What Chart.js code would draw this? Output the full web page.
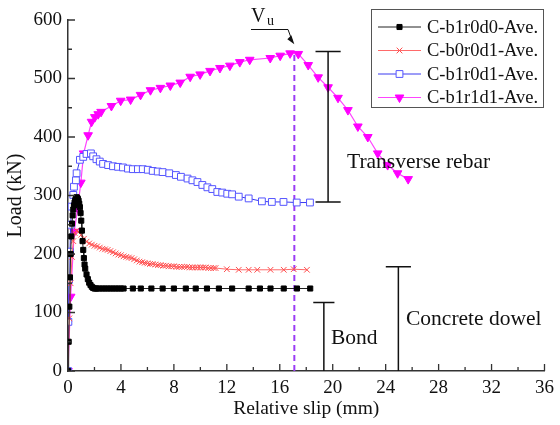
<!DOCTYPE html>
<html>
<head>
<meta charset="utf-8">
<script src="https://cdn.jsdelivr.net/npm/chart.js@4.4.1/dist/chart.umd.min.js"></script>
<style>
html, body { margin: 0; padding: 0; background: #fff; }
#wrap { width: 560px; height: 425px; position: relative; }
</style>
</head>
<body>
<div id="wrap"><canvas id="slipChart"></canvas></div>
<script>
// series: relative slip (mm) and load (kN)
const seriesNames = ['C-b1r0d0-Ave.', 'C-b0r0d1-Ave.', 'C-b1r0d1-Ave.', 'C-b1r1d1-Ave.'];

const b1r0d0Slip = [0, 0.05, 0.1, 0.15, 0.2, 0.25, 0.3, 0.35, 0.4, 0.45, 0.5, 0.55, 0.6, 0.65, 0.7, 0.75, 0.8, 0.85, 0.9, 0.95, 1.0, 1.05, 1.1, 1.15, 1.2, 1.25, 1.3, 1.4, 1.5, 1.6, 1.7, 1.8, 1.9, 2.0, 2.1, 2.2, 2.4, 2.6, 2.8, 3.0, 3.2, 3.4, 3.6, 3.8, 4.0, 4.2, 4.9, 5.5, 6.3, 7.15, 8.0, 8.9, 9.65, 10.5, 11.4, 12.4, 13.65, 14.5, 15.3, 16.3, 17.3, 18.3];
const b1r0d0Load = [0, 50, 110, 160, 200, 230, 252, 266, 276, 283, 288, 292, 295, 297, 296, 294, 291, 286, 280, 270, 257, 240, 222, 207, 193, 182, 175, 165, 157, 151, 147, 144, 142, 141, 141, 141, 141, 141, 141, 141, 141, 141, 141, 141, 141, 141, 141, 141, 141, 141, 141, 141, 141, 141, 141, 141, 141, 141, 141, 141, 141, 141];

const b0r0d1Slip = [0, 0.1, 0.2, 0.3, 0.4, 0.5, 0.65, 0.8, 1.0, 1.2, 1.4, 1.6, 1.8, 2.0, 2.2, 2.4, 2.6, 2.8, 3.0, 3.2, 3.4, 3.6, 3.8, 4.0, 4.2, 4.4, 4.6, 4.8, 5.0, 5.2, 5.4, 5.6, 5.8, 6.0, 6.2, 6.4, 6.6, 6.8, 7.0, 7.2, 7.4, 7.6, 7.8, 8.0, 8.2, 8.4, 8.6, 8.8, 9.0, 9.2, 9.4, 9.6, 9.8, 10.0, 10.2, 10.4, 10.6, 10.8, 11.0, 11.15, 12.0, 12.9, 13.65, 14.3, 15.3, 16.3, 17.05, 18.05];
const b0r0d1Load = [0, 90, 150, 195, 222, 236, 240, 238, 233, 226, 221, 218, 216, 214, 213, 211, 209, 208, 207, 205, 203, 201, 199, 198, 196, 195, 194, 193, 191, 189, 187, 186, 185, 184, 183, 183, 182, 181, 181, 180, 180, 179, 179, 179, 178, 178, 178, 178, 178, 177, 177, 177, 177, 177, 177, 177, 176, 176, 176, 176, 174, 173, 173, 173, 173, 173, 174, 173];

const b1r0d1Slip = [0, 0.03, 0.08, 0.15, 0.2, 0.27, 0.4, 0.45, 0.6, 0.65, 0.9, 1.15, 1.4, 1.73, 1.9, 2.15, 2.4, 2.65, 3.03, 3.4, 3.78, 4.15, 4.53, 4.9, 5.28, 5.65, 6.03, 6.4, 6.78, 7.15, 7.65, 8.15, 8.53, 9.03, 9.4, 9.78, 10.15, 10.53, 10.9, 11.28, 11.65, 12.03, 12.4, 12.9, 13.65, 14.65, 15.4, 16.28, 17.28, 18.28];
const b1r0d1Load = [0, 84, 156, 204, 250, 281, 301, 315, 326, 338, 361, 366, 371, 372, 367, 362, 358, 354, 352, 350, 349, 348, 346, 345, 345, 345, 344, 342, 341, 340, 338, 335, 332, 329, 326, 323, 318, 314, 311, 306, 305, 303, 302, 298, 295, 290, 289, 289, 288, 288];

const b1r1d1Slip = [0, 0.2, 0.47, 0.73, 0.97, 1.18, 1.52, 1.78, 2.03, 2.28, 2.5, 3.28, 3.98, 4.73, 5.48, 6.23, 6.98, 7.73, 8.48, 9.23, 9.98, 10.73, 11.48, 12.23, 12.98, 13.73, 15.28, 16.03, 16.78, 17.4, 18.15, 18.9, 19.65, 20.4, 21.15, 21.9, 22.65, 23.4, 24.15, 24.9, 25.7];
const b1r1d1Load = [0, 127, 238, 278, 322, 372, 403, 426, 434, 439, 443, 453, 462, 464, 472, 480, 484, 488, 493, 503, 507, 513, 518, 522, 528, 532, 535, 539, 543, 542, 523, 502, 485, 467, 446, 418, 400, 372, 352, 338, 328];

const xTickValues = [0, 4, 8, 12, 16, 20, 24, 28, 32, 36];
const yTickValues = [0, 100, 200, 300, 400, 500, 600];

// ultimate load marker and the three resistance brackets (slip, load)
const vuSlip = 17.1;
const vuLoad = 545;
const bracketNames = ['Transverse rebar', 'Bond', 'Concrete dowel'];
const bracketSlip = [19.65, 19.33, 24.96];
const bracketTop = [546, 117, 178];
const bracketBottom = [289, 0, 0];

const serif = '"Liberation Serif", "DejaVu Serif", serif';

function pairs(xs, ys) {
    return xs.map((x, i) => ({ x: x, y: ys[i] }));
}

const inwardTicks = {
    id: 'inwardTicks',
    afterDraw(chart) {
        const c = chart.ctx;
        const xs = chart.scales.x;
        const ys = chart.scales.y;
        const a = chart.chartArea;
        c.save();
        c.strokeStyle = '#333';
        c.lineWidth = 1.3;
        c.beginPath();
        for (let v = 0; v <= 36; v += 2) {
            const px = xs.getPixelForValue(v);
            const len = v % 4 === 0 ? 7 : 4;
            c.moveTo(px, a.bottom);
            c.lineTo(px, a.bottom - len);
        }
        for (let v = 0; v <= 600; v += 50) {
            const py = ys.getPixelForValue(v);
            const len = v % 100 === 0 ? 7 : 4;
            c.moveTo(a.left, py);
            c.lineTo(a.left + len, py);
        }
        c.stroke();
        c.restore();
    }
};

const notes = {
    id: 'notes',
    afterDatasetsDraw(chart) {
        const c = chart.ctx;
        const xs = chart.scales.x;
        const ys = chart.scales.y;
        c.save();

        // brackets
        c.strokeStyle = '#111';
        c.lineWidth = 1.5;
        const capHalf = [0.95, 0.8, 0.95];
        bracketSlip.forEach((s, i) => {
            const px = xs.getPixelForValue(s);
            const top = ys.getPixelForValue(bracketTop[i]);
            const bot = ys.getPixelForValue(bracketBottom[i]);
            const l = xs.getPixelForValue(s - capHalf[i]);
            const r = xs.getPixelForValue(s + capHalf[i]);
            c.beginPath();
            c.moveTo(px, top); c.lineTo(px, bot);
            c.moveTo(l, top); c.lineTo(r, top);
            if (i === 0) { c.moveTo(l, bot); c.lineTo(r, bot); }
            c.stroke();
        });

        c.fillStyle = '#111';
        c.font = '21.5px ' + serif;
        c.textBaseline = 'alphabetic';
        c.fillText(bracketNames[0], 347, 168);
        c.fillText(bracketNames[1], 331, 344);
        c.fillText(bracketNames[2], 406, 325);

        // V_u label, underline and arrow
        const tipX = xs.getPixelForValue(vuSlip);
        const tipY = ys.getPixelForValue(vuLoad) - 8;
        c.font = '20px ' + serif;
        c.fillText('V', 251, 22);
        c.font = '14px ' + serif;
        c.fillText('u', 267, 25);
        c.lineWidth = 1;
        c.beginPath();
        c.moveTo(251, 29.5); c.lineTo(288, 29.5);
        c.lineTo(tipX - 2, tipY - 3);
        c.stroke();
        c.beginPath();
        c.moveTo(tipX, tipY);
        c.lineTo(tipX - 7, tipY - 5);
        c.lineTo(tipX - 3, tipY - 9);
        c.closePath();
        c.fill();

        // legend box
        const bx = 371, by = 9, bw = 172, bh = 98;
        c.fillStyle = '#fff';
        c.fillRect(bx, by, bw, bh);
        c.strokeStyle = '#555';
        c.lineWidth = 1;
        c.strokeRect(bx + 0.5, by + 0.5, bw, bh);
        const rows = [27, 50.5, 74, 97.5];
        chart.data.datasets.slice(0, 4).forEach((ds, i) => {
            const y = rows[i];
            c.strokeStyle = ds.borderColor;
            c.lineWidth = 1;
            c.beginPath();
            c.moveTo(378, y); c.lineTo(421, y);
            c.stroke();
            c.fillStyle = ds.pointBackgroundColor;
            c.strokeStyle = ds.pointBorderColor;
            Chart.helpers.drawPoint(c, {
                pointStyle: ds.pointStyle,
                rotation: ds.rotation || 0,
                radius: ds.pointRadius,
                borderWidth: ds.pointBorderWidth || 1
            }, 399.5, y);
            c.fillStyle = '#111';
            c.font = '18.5px ' + serif;
            c.textBaseline = 'middle';
            c.fillText(seriesNames[i], 427, y + 1);
        });
        c.restore();
    }
};

new Chart(document.getElementById('slipChart'), {
    type: 'scatter',
    data: {
        datasets: [
            {
                label: seriesNames[0],
                data: pairs(b1r0d0Slip, b1r0d0Load),
                showLine: true,
                borderColor: '#222',
                borderWidth: 1,
                pointStyle: 'rect',
                pointRadius: 3.6,
                pointBackgroundColor: '#000',
                pointBorderColor: '#000',
                pointBorderWidth: 1
            },
            {
                label: seriesNames[1],
                data: pairs(b0r0d1Slip, b0r0d1Load),
                showLine: true,
                borderColor: '#ff6a6a',
                borderWidth: 1,
                pointStyle: 'cross',
                rotation: 45,
                pointRadius: 4,
                pointBackgroundColor: '#ff4d4d',
                pointBorderColor: '#ff4d4d',
                pointBorderWidth: 1
            },
            {
                label: seriesNames[2],
                data: pairs(b1r0d1Slip, b1r0d1Load),
                showLine: true,
                borderColor: '#3a3af0',
                borderWidth: 1,
                pointStyle: 'rect',
                pointRadius: 4.8,
                pointBackgroundColor: '#fff',
                pointBorderColor: '#5555ff',
                pointBorderWidth: 1
            },
            {
                label: seriesNames[3],
                data: pairs(b1r1d1Slip, b1r1d1Load),
                showLine: true,
                borderColor: '#ff44ff',
                borderWidth: 1.2,
                pointStyle: 'triangle',
                rotation: 180,
                pointRadius: 5,
                pointBackgroundColor: '#ff00ff',
                pointBorderColor: '#ff00ff',
                pointBorderWidth: 1
            },
            {
                label: 'Vu',
                data: [{ x: vuSlip, y: 0 }, { x: vuSlip, y: vuLoad }],
                showLine: true,
                borderColor: '#9b3cf5',
                borderWidth: 2,
                borderDash: [6, 4],
                pointRadius: 0
            }
        ]
    },
    options: {
        responsive: true,
        maintainAspectRatio: false,
        animation: false,
        layout: { padding: { top: 20, right: 12, left: 0, bottom: 0 } },
        plugins: {
            legend: { display: false },
            tooltip: { enabled: false }
        },
        elements: { line: { tension: 0 } },
        scales: {
            x: {
                type: 'linear',
                min: 0,
                max: 36,
                afterFit: s => { s.height = 54; },
                afterBuildTicks: s => { s.ticks = xTickValues.map(v => ({ value: v })); },
                grid: { display: false, drawTicks: false },
                border: { display: true, color: '#333', width: 1.5 },
                ticks: { color: '#111', padding: 6, font: { family: serif, size: 19 } },
                title: {
                    display: true,
                    text: 'Relative slip (mm)',
                    color: '#111',
                    padding: { top: 1 },
                    font: { family: serif, size: 19.5 }
                }
            },
            y: {
                type: 'linear',
                min: 0,
                max: 600,
                afterFit: s => { s.width = 68; },
                afterBuildTicks: s => { s.ticks = yTickValues.map(v => ({ value: v })); },
                grid: { display: false, drawTicks: false },
                border: { display: true, color: '#333', width: 1.5 },
                ticks: { color: '#111', padding: 6, font: { family: serif, size: 19 } },
                title: {
                    display: true,
                    text: 'Load (kN)',
                    color: '#111',
                    padding: { bottom: 2 },
                    font: { family: serif, size: 20 }
                }
            }
        }
    },
    plugins: [inwardTicks, notes]
});
</script>
</body>
</html>
